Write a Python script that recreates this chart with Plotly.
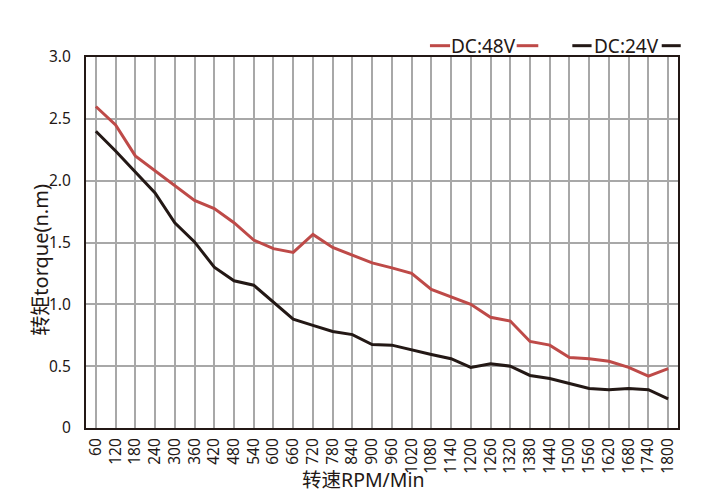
import plotly.graph_objects as go

rpm = [60, 120, 180, 240, 300, 360, 420, 480, 540, 600, 660, 720, 780, 840, 900,
       960, 1020, 1080, 1140, 1200, 1260, 1320, 1380, 1440, 1500, 1560, 1620, 1680, 1740, 1800]
torque_48v = [2.60, 2.45, 2.20, 2.08, 1.96, 1.84, 1.775, 1.66, 1.52, 1.45, 1.42, 1.565, 1.46, 1.40, 1.335,
              1.295, 1.25, 1.12, 1.06, 1.00, 0.895, 0.865, 0.70, 0.67, 0.57, 0.56, 0.54, 0.49, 0.42, 0.48]
torque_24v = [2.40, 2.24, 2.07, 1.90, 1.66, 1.505, 1.30, 1.19, 1.155, 1.02, 0.88, 0.83, 0.78, 0.755, 0.675,
              0.67, 0.63, 0.595, 0.56, 0.49, 0.52, 0.50, 0.425, 0.40, 0.36, 0.32, 0.31, 0.32, 0.31, 0.235]
y_ticks = [0, 0.5, 1.0, 1.5, 2.0, 2.5, 3.0]
y_tick_labels = ["0", "0.5", "1.0", "1.5", "2.0", "2.5", "3.0"]
series_names = ["DC:48V", "DC:24V"]
x_title = "转速RPM/Min"
y_title = "转矩torque(n.m)"

RED = "#be4a48"
BLACK = "#231815"
FONT = "Noto Sans, Noto Sans CJK SC, sans-serif"

fig = go.Figure()
fig.add_trace(go.Scatter(x=rpm, y=torque_48v, mode="lines", name=series_names[0],
                         line=dict(color=RED, width=3)))
fig.add_trace(go.Scatter(x=rpm, y=torque_24v, mode="lines", name=series_names[1],
                         line=dict(color=BLACK, width=3)))

fig.update_layout(
    width=724, height=492,
    margin=dict(l=86, r=46, t=57, b=64),
    paper_bgcolor="white", plot_bgcolor="white",
    showlegend=False,
    font=dict(family=FONT, color=BLACK),
)
fig.update_xaxes(
    range=[30, 1830], tickmode="array", tickvals=rpm, ticktext=[str(v) for v in rpm],
    tickangle=-90, tickfont=dict(size=15.5, color=BLACK),
    showgrid=True, gridcolor="#a8a8a8", gridwidth=1.5,
    showline=True, mirror=True, linecolor=BLACK, linewidth=2,
    ticks="", ticklabelstandoff=2, zeroline=False,
)
fig.update_yaxes(
    range=[0, 3], tickmode="array", tickvals=y_ticks, ticktext=y_tick_labels,
    tickfont=dict(size=15.5, color=BLACK),
    showgrid=True, gridcolor="#a8a8a8", gridwidth=1.5,
    showline=True, mirror=True, linecolor=BLACK, linewidth=2,
    ticks="", ticklabelstandoff=10, zeroline=False,
)

# axis titles
fig.add_annotation(text=x_title, xref="paper", yref="paper", x=0.468, y=-0.139,
                   xanchor="center", yanchor="middle", showarrow=False,
                   font=dict(size=19.5, color=BLACK))
fig.add_annotation(text=y_title, xref="paper", yref="paper", x=-0.0765, y=0.453,
                   xanchor="center", yanchor="middle", textangle=-90, showarrow=False,
                   font=dict(size=20, color=BLACK))

# legend: text with line segments on both sides
legend_items = [
    (series_names[0], RED, 0.671, (0.581, 0.615), (0.7275, 0.764)),
    (series_names[1], BLACK, 0.913, (0.8215, 0.854), (0.9725, 1.0046)),
]
for name, color, xc, seg_l, seg_r in legend_items:
    fig.add_annotation(text=name, xref="paper", yref="paper", x=xc, y=1.0305,
                       xanchor="center", yanchor="middle", showarrow=False,
                       font=dict(size=19, color=BLACK))
    for seg in (seg_l, seg_r):
        fig.add_shape(type="line", xref="paper", yref="paper", x0=seg[0], x1=seg[1],
                      y0=1.0305, y1=1.0305, line=dict(color=color, width=3))

fig.write_html("out.html", config={"displayModeBar": False},
               post_script="document.body.style.margin='0';document.body.style.overflow='hidden';")
